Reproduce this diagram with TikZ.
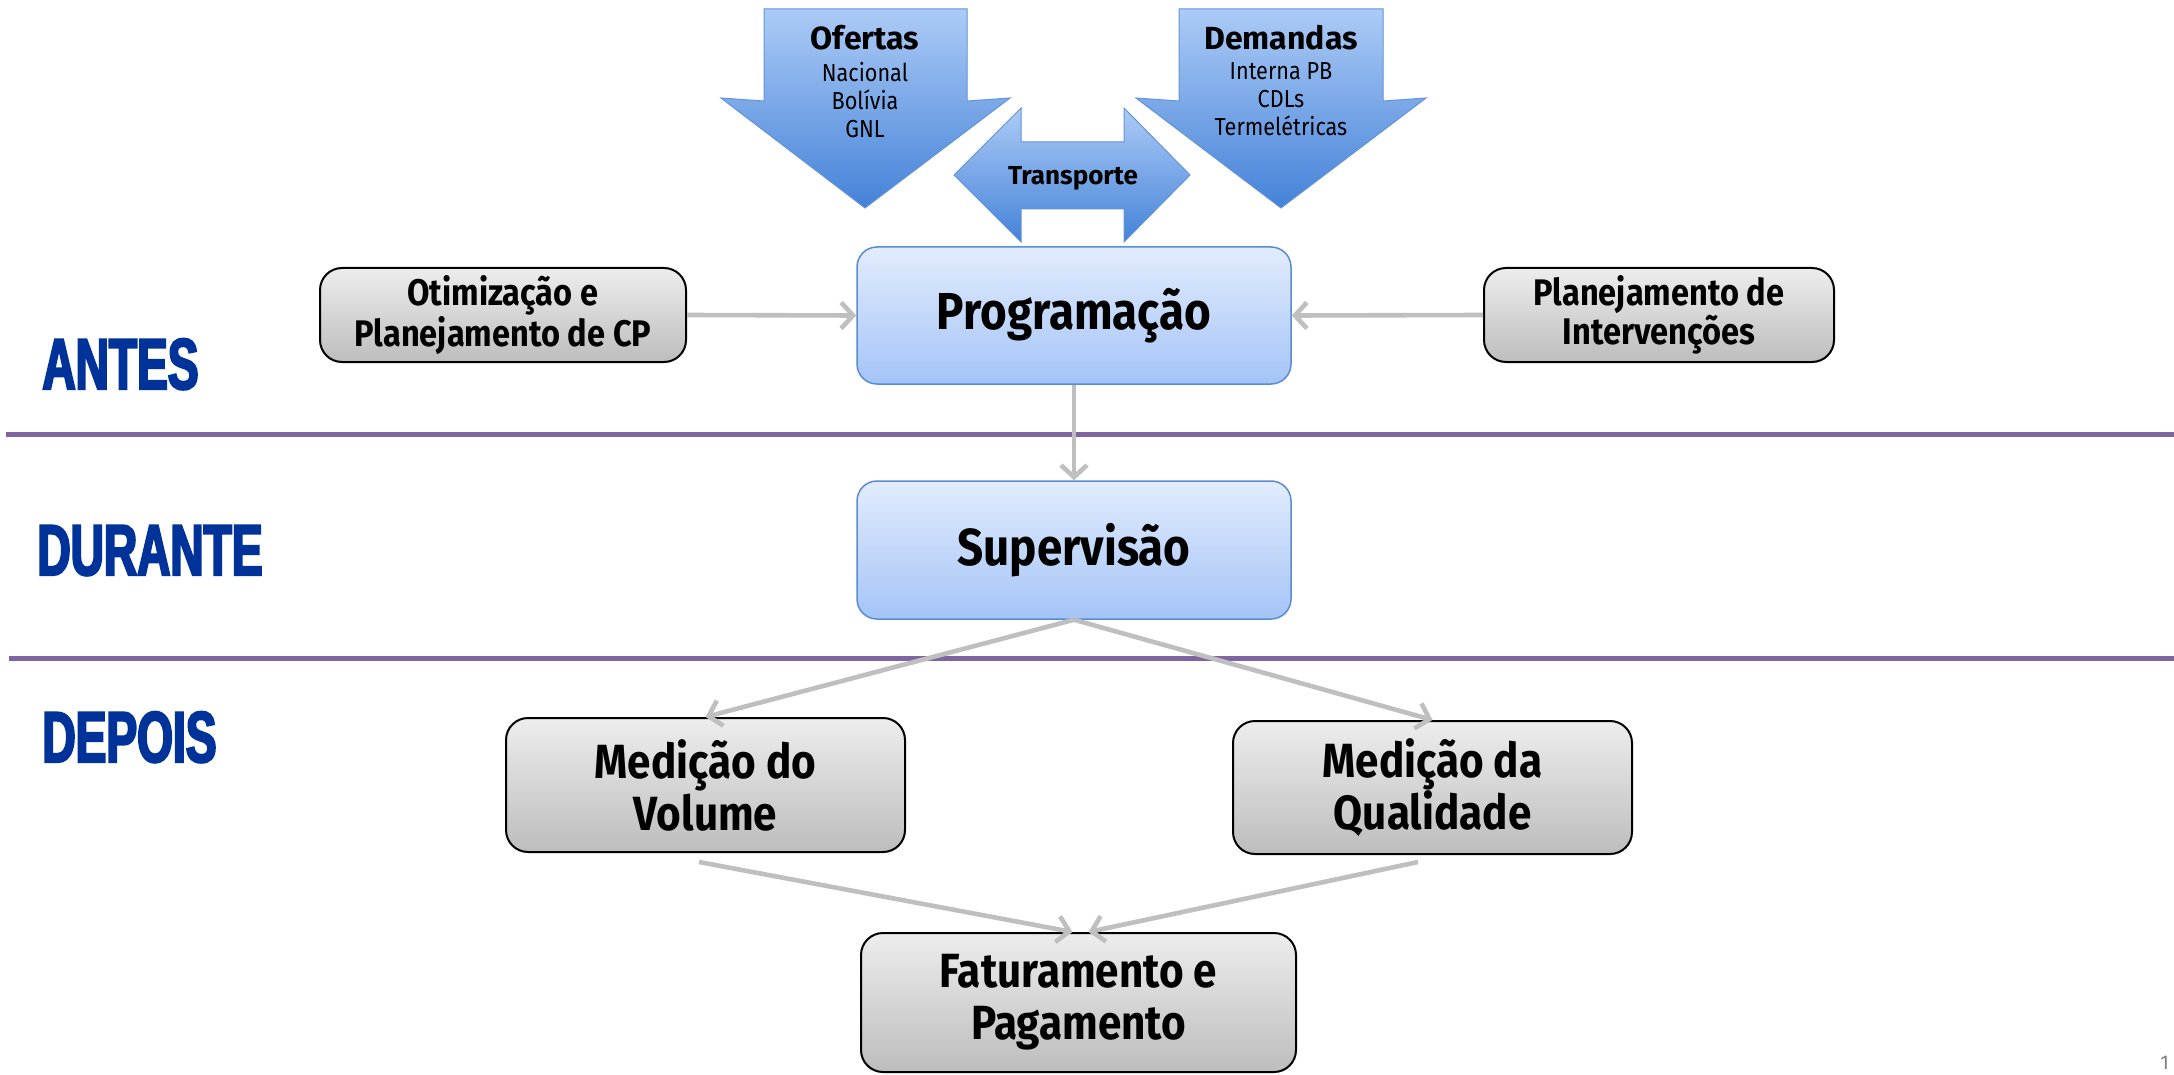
\documentclass[tikz,border=0pt]{standalone}
\usepackage{fontspec}
\setmainfont{Fira Sans}
\newfontfamily\boxfont[FakeStretch=0.88]{Fira Sans}
\newfontfamily\phasefont[FakeStretch=0.64,FakeBold=3]{Liberation Sans}
\usetikzlibrary{arrows.meta}

\definecolor{linkgray}{RGB}{191,191,191}
\definecolor{phaseblue}{RGB}{0,51,153}
\definecolor{rulepurple}{RGB}{128,100,162}
\definecolor{flowtop}{RGB}{172,203,246}
\definecolor{flowbottom}{RGB}{68,130,216}
\definecolor{flowedge}{RGB}{100,148,215}
\definecolor{stagetop}{RGB}{226,236,253}
\definecolor{stagebottom}{RGB}{164,196,247}
\definecolor{stageedge}{RGB}{90,140,210}
\definecolor{tasktop}{RGB}{237,237,237}
\definecolor{taskbottom}{RGB}{189,189,189}

\tikzset{
  stagebox/.style={draw=stageedge, line width=0.75pt, rounded corners=10pt,
    top color=stagetop, bottom color=stagebottom, inner sep=0pt, align=center,
    font=\boxfont\bfseries\fontsize{26}{30}\selectfont},
  taskbox/.style={draw=black, line width=1pt, rounded corners=11pt,
    top color=tasktop, bottom color=taskbottom, inner sep=0pt, align=center,
    font=\boxfont\bfseries\fontsize{24}{26}\selectfont},
  smalltask/.style={taskbox, font=\boxfont\bfseries\fontsize{18.5}{19.5}\selectfont},
  flowarrow/.style={draw=flowedge, line width=0.5pt, top color=flowtop, bottom color=flowbottom},
  flowtitle/.style={anchor=base, inner sep=0pt, font=\bfseries\fontsize{16}{18}\selectfont},
  flowlist/.style={anchor=north, inner sep=0pt, align=center, font=\boxfont\fontsize{12.3}{14}\selectfont},
  link/.style={draw=linkgray, line width=2.3pt, -{Straight Barb[length=6pt,width=13pt]}},
  phase/.style={anchor=base west, text=phaseblue, inner sep=0pt,
    font=\phasefont\bfseries\fontsize{36}{36}\selectfont},
  rulerline/.style={draw=rulepurple, line width=2.5pt},
}

\begin{document}
\begin{tikzpicture}[x=0.5pt,y=0.5pt,yscale=-1,xscale=1]
	\useasboundingbox (0,0) rectangle (2174,1075);
	\fill[white] (0,0) rectangle (2174,1075);

	%Phase separators
	\draw[rulerline] (6,434) -- (2174,434);
	\draw[rulerline] (9,658) -- (2174,658);

	%Shape: Down arrow, offers
	\path[flowarrow] (764,9) -- (967,9) -- (967,101) -- (1010,98) -- (865,208) -- (721,98) -- (764,101) -- cycle;
	%Shape: Down arrow, demands
	\path[flowarrow] (1179,9) -- (1383,9) -- (1383,101) -- (1426,98) -- (1281,208) -- (1136,98) -- (1179,101) -- cycle;
	%Shape: Double arrow, transport
	\path[flowarrow] (954,175) -- (1021,108) -- (1021,142) -- (1124,142) -- (1124,108) -- (1190,175)
	  -- (1124,242) -- (1124,209) -- (1021,209) -- (1021,242) -- cycle;

	% Text Node
	\node[flowtitle] (ofertas) at (865,50) {Ofertas};
	\node[flowlist] (ofertaslist) at (865,62) {Nacional\\Bolívia\\GNL};
	\node[flowtitle] (demandas) at (1281,50) {Demandas};
	\node[flowlist] (demandaslist) at (1281,62) {Interna PB\\CDLs\\Termelétricas};
	\node[flowtitle, font=\bfseries\fontsize{13}{15}\selectfont] (transporte) at (1073,185) {Transporte};

	%Boxes
	\node[stagebox, minimum width=217pt, minimum height=68.5pt] (prog) at (1074,315.5) {Programação};
	\node[stagebox, minimum width=217pt, minimum height=69pt] (sup) at (1074,550) {Supervisão};
	\node[smalltask, minimum width=183pt, minimum height=47pt] (otim) at (503,315) {Otimização e\\Planejamento de CP};
	\node[smalltask, minimum width=175pt, minimum height=47pt] (plan) at (1659,315) {Planejamento de\\Intervenções};
	\node[taskbox, minimum width=199.5pt, minimum height=67pt] (vol) at (705.5,785) {Medição do\\Volume};
	\node[taskbox, minimum width=199.5pt, minimum height=66.5pt] (qual) at (1432.5,787.5) {Medição da\\Qualidade};
	\node[taskbox, minimum width=217.5pt, minimum height=69.5pt] (fat) at (1078.5,1002.5) {Faturamento e\\Pagamento};

	%Connectors
	\coordinate (volout) at (699,862);
	\coordinate (qualout) at (1418,862);
	\draw[link] (otim.east) -- (prog.west);
	\draw[link] (plan.west) -- (prog.east);
	\draw[link] (prog.south) -- (sup.north);
	\draw[link] (sup.south) -- (vol.north);
	\draw[link] (sup.south) -- (qual.north);
	\draw[link] (volout) -- ([xshift=-3pt]fat.north);
	\draw[link] (qualout) -- ([xshift=5pt]fat.north);

	% Text Node
	\node[phase] (antes) at (42,389) {ANTES};
	\node[phase] (durante) at (37,575) {DURANTE};
	\node[phase] (depois) at (42,762) {DEPOIS};
	\node[anchor=north west, inner sep=0pt, text=gray, font=\fontsize{10}{10}\selectfont] (pagenum) at (2160,1056) {1};

\end{tikzpicture}
\end{document}
